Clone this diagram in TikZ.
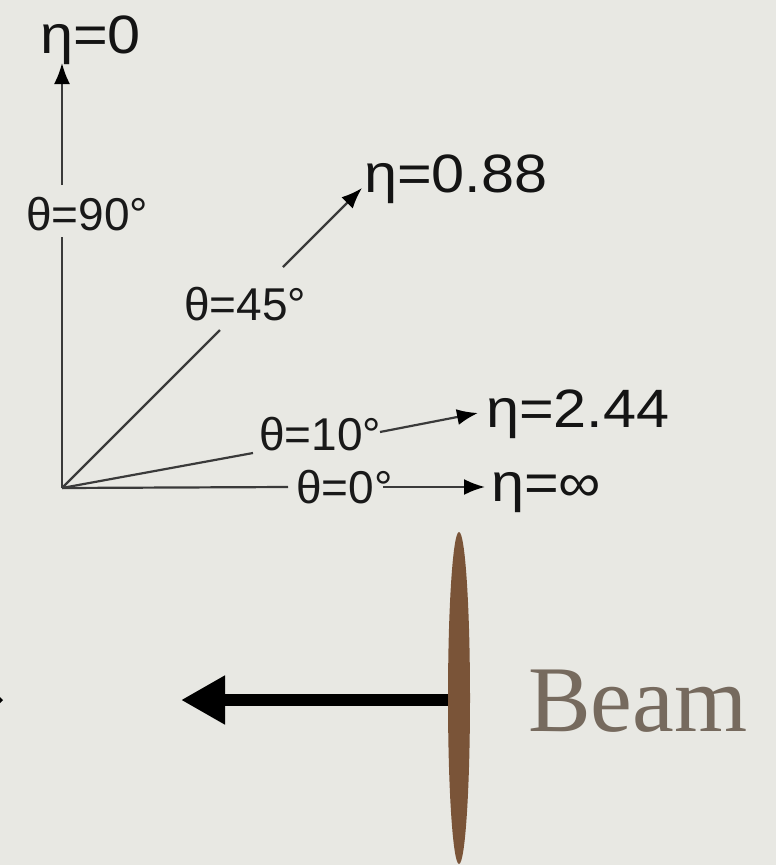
\documentclass[tikz,border=0pt]{standalone}
\usepackage{fontspec}
\setmainfont{Liberation Serif}
\newfontfamily\lsans{Liberation Sans}
\newfontfamily\lsanswide{Liberation Sans}[FakeStretch=1.1]
\usetikzlibrary{arrows.meta}
\definecolor{bg}{RGB}{232,232,227}
\definecolor{axis}{RGB}{58,58,58}
\definecolor{beamc}{RGB}{122,84,56}
\definecolor{beamtext}{RGB}{118,106,94}
\begin{document}
\begin{tikzpicture}[x=1pt,y=-1pt,
  thetalbl/.style={anchor=base west,inner sep=0pt,text=black!90,font=\lsans\fontsize{46}{50}\selectfont},
  etalbl/.style={anchor=base west,inner sep=0pt,text=black!92,font=\lsanswide\fontsize{54}{58}\selectfont},
  ray/.style={draw=axis,line width=2.2pt},
  rayarrow/.style={ray,-{Latex[length=21pt,width=16pt,color=black]}},
  beamarrow/.style={draw=black,line width=12pt,-{Triangle[length=44pt,width=46pt]}}]
\fill[bg] (0,0) rectangle (776,865);
\useasboundingbox (0,0) rectangle (776,865);
% origin and segment end points
\coordinate (O) at (62,488);
\coordinate (v1) at (62,237);
\coordinate (v2) at (62,185);
\coordinate (v3) at (62,63);
\coordinate (d1) at (220,330);
\coordinate (d2) at (283,267);
\coordinate (d3) at (362,188);
\coordinate (t1) at (253,453);
\coordinate (t2) at (380,432);
\coordinate (t3) at (478,413);
\coordinate (h1) at (288,487);
\coordinate (h2) at (383,487);
\coordinate (h3) at (485,487);
% labels
\node[etalbl] (e0) at (40,53) {η=0};
\node[etalbl] (e88) at (364,192) {η=0.88};
\node[etalbl] (e244) at (486,427) {η=2.44};
\node[etalbl] (einf) at (491,501) {η=∞};
\node[thetalbl] (th90) at (26,230) {θ=90°};
\node[thetalbl] (th45) at (184,320) {θ=45°};
\node[thetalbl] (th10) at (259,450) {θ=10°};
\node[thetalbl] (th0) at (296,503) {θ=0°};
% rays
\draw[ray] (O) -- (v1);
\draw[rayarrow] (v2) -- (v3);
\draw[ray] (O) -- (d1);
\draw[rayarrow] (d2) -- (d3);
\draw[ray] (O) -- (t1);
\draw[rayarrow] (t2) -- (t3);
\draw[ray] (O) -- (h1);
\draw[rayarrow] (h2) -- (h3);
% beam
\coordinate (bs) at (450,700);
\coordinate (bt) at (181,700);
\draw[beamarrow] (bs) -- (bt);
\fill[beamc] (459,698) ellipse [x radius=11, y radius=166];
\node[anchor=base west,inner sep=0pt,text=beamtext,font=\fontsize{94}{100}\selectfont] (beam) at (528,731) {Beam};
% cut-off arrow tip at left edge
\fill[black] (0,697) -- (3,700) -- (0,703) -- cycle;
\end{tikzpicture}
\end{document}
